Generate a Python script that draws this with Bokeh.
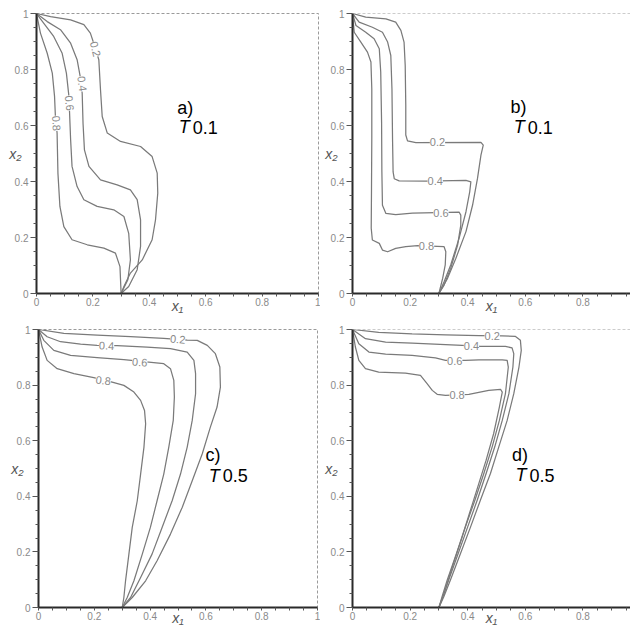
from bokeh.plotting import figure
from bokeh.layouts import column, row
from bokeh.models import Label, Span, FixedTicker, Range1d
from bokeh.embed import file_html
from bokeh.resources import INLINE

# ---------------- data ----------------
LEVELS = ["0.2", "0.4", "0.6", "0.8"]
TICKS = [0, 0.2, 0.4, 0.6, 0.8, 1]
TICK_LABELS = ["0", "0.2", "0.4", "0.6", "0.8", "1"]
MINOR_TICKS = [0.05, 0.1, 0.15, 0.25, 0.3, 0.35, 0.45, 0.5, 0.55,
               0.65, 0.7, 0.75, 0.85, 0.9, 0.95]
PANEL_TAGS = ["a)", "b)", "c)", "d)"]
PANEL_T = ["0.1", "0.1", "0.5", "0.5"]
X_LABEL = "x\u2081"
Y_LABEL = "x\u2082"

# panel a, T 0.1
A_X_02 = [0, 0.050, 0.121, 0.168, 0.191, 0.203, 0.221, 0.227, 0.233, 0.251, 0.298, 0.369, 0.410, 0.428, 0.430, 0.422, 0.410, 0.375, 0.333, 0.310, 0.300]
A_Y_02 = [1, 0.989, 0.977, 0.960, 0.930, 0.894, 0.835, 0.727, 0.632, 0.573, 0.543, 0.525, 0.489, 0.430, 0.358, 0.263, 0.192, 0.120, 0.073, 0.025, 0.0]
A_X_04 = [0, 0.038, 0.085, 0.121, 0.144, 0.156, 0.162, 0.165, 0.170, 0.186, 0.227, 0.286, 0.333, 0.357, 0.369, 0.369, 0.357, 0.327, 0.300]
A_Y_04 = [1, 0.971, 0.942, 0.894, 0.835, 0.769, 0.715, 0.608, 0.513, 0.454, 0.406, 0.388, 0.370, 0.335, 0.263, 0.168, 0.085, 0.025, 0]
A_X_06 = [0, 0.026, 0.061, 0.091, 0.106, 0.115, 0.121, 0.126, 0.144, 0.168, 0.215, 0.274, 0.310, 0.327, 0.333, 0.324, 0.300]
A_Y_06 = [1, 0.965, 0.918, 0.858, 0.787, 0.704, 0.549, 0.454, 0.382, 0.335, 0.311, 0.299, 0.275, 0.215, 0.120, 0.049, 0]
A_X_08 = [0, 0.014, 0.038, 0.056, 0.064, 0.067, 0.073, 0.076, 0.083, 0.097, 0.126, 0.180, 0.239, 0.280, 0.296, 0.300]
A_Y_08 = [1, 0.930, 0.858, 0.787, 0.704, 0.632, 0.573, 0.430, 0.311, 0.239, 0.192, 0.174, 0.162, 0.144, 0.096, 0]

# panel b, T 0.1
B_X_02 = [0, 0.046, 0.116, 0.150, 0.168, 0.179, 0.183, 0.185, 0.185, 0.191, 0.220, 0.446, 0.454, 0.446, 0.434, 0.417, 0.394, 0.359, 0.330, 0.300]
B_Y_02 = [1, 0.987, 0.981, 0.969, 0.940, 0.898, 0.815, 0.673, 0.566, 0.545, 0.539, 0.540, 0.530, 0.494, 0.411, 0.316, 0.221, 0.126, 0.054, 0]
B_X_04 = [0, 0.023, 0.069, 0.104, 0.122, 0.133, 0.137, 0.139, 0.141, 0.145, 0.162, 0.255, 0.394, 0.411, 0.407, 0.394, 0.370, 0.341, 0.318, 0.300]
B_Y_04 = [1, 0.969, 0.951, 0.933, 0.898, 0.850, 0.731, 0.553, 0.434, 0.410, 0.402, 0.401, 0.404, 0.399, 0.363, 0.292, 0.197, 0.102, 0.042, 0]
B_X_06 = [0, 0.012, 0.046, 0.075, 0.093, 0.098, 0.101, 0.102, 0.104, 0.116, 0.150, 0.208, 0.370, 0.376, 0.376, 0.365, 0.341, 0.318, 0.300]
B_Y_06 = [1, 0.957, 0.933, 0.910, 0.874, 0.791, 0.612, 0.434, 0.315, 0.286, 0.282, 0.287, 0.291, 0.280, 0.244, 0.173, 0.090, 0.030, 0]
B_X_08 = [0, 0.006, 0.029, 0.052, 0.064, 0.067, 0.067, 0.066, 0.065, 0.069, 0.093, 0.104, 0.122, 0.150, 0.185, 0.226, 0.318, 0.324, 0.322, 0.313, 0.300]
B_Y_08 = [1, 0.933, 0.898, 0.862, 0.827, 0.731, 0.553, 0.375, 0.233, 0.191, 0.179, 0.155, 0.149, 0.161, 0.167, 0.171, 0.167, 0.149, 0.102, 0.054, 0]

# panel c, T 0.5
C_X_02 = [0, 0.091, 0.210, 0.330, 0.449, 0.533, 0.569, 0.605, 0.634, 0.650, 0.652, 0.640, 0.616, 0.587, 0.551, 0.515, 0.473, 0.425, 0.384, 0.336, 0.300]
C_Y_02 = [1, 0.986, 0.980, 0.974, 0.968, 0.962, 0.961, 0.943, 0.913, 0.865, 0.793, 0.721, 0.649, 0.553, 0.456, 0.360, 0.264, 0.168, 0.096, 0.036, 0]
C_X_04 = [0, 0.031, 0.079, 0.151, 0.210, 0.282, 0.389, 0.473, 0.533, 0.557, 0.563, 0.563, 0.551, 0.533, 0.509, 0.479, 0.443, 0.407, 0.366, 0.330, 0.300]
C_Y_04 = [1, 0.974, 0.956, 0.947, 0.943, 0.942, 0.937, 0.931, 0.919, 0.889, 0.841, 0.769, 0.673, 0.577, 0.480, 0.384, 0.288, 0.192, 0.108, 0.036, 0]
C_X_06 = [0, 0.019, 0.055, 0.115, 0.210, 0.306, 0.395, 0.449, 0.473, 0.485, 0.487, 0.483, 0.467, 0.449, 0.425, 0.401, 0.372, 0.342, 0.318, 0.300]
C_Y_06 = [1, 0.961, 0.925, 0.907, 0.899, 0.892, 0.883, 0.877, 0.859, 0.817, 0.757, 0.673, 0.577, 0.480, 0.384, 0.288, 0.192, 0.096, 0.036, 0]
C_X_08 = [0, 0.013, 0.031, 0.067, 0.127, 0.198, 0.264, 0.306, 0.342, 0.366, 0.380, 0.384, 0.378, 0.366, 0.354, 0.336, 0.324, 0.312, 0.306, 0.300]
C_Y_08 = [1, 0.937, 0.889, 0.859, 0.841, 0.827, 0.811, 0.799, 0.775, 0.745, 0.709, 0.661, 0.577, 0.480, 0.384, 0.288, 0.192, 0.096, 0.036, 0]

# panel d, T 0.5
D_X_02 = [0, 0.091, 0.207, 0.323, 0.439, 0.520, 0.566, 0.583, 0.586, 0.578, 0.560, 0.537, 0.508, 0.479, 0.444, 0.410, 0.375, 0.340, 0.317, 0.300]
D_Y_02 = [1, 0.990, 0.984, 0.981, 0.978, 0.977, 0.975, 0.961, 0.925, 0.865, 0.769, 0.673, 0.578, 0.482, 0.386, 0.290, 0.194, 0.099, 0.039, 0]
D_X_04 = [0, 0.045, 0.115, 0.207, 0.323, 0.381, 0.444, 0.531, 0.554, 0.560, 0.557, 0.543, 0.520, 0.494, 0.464, 0.433, 0.400, 0.367, 0.334, 0.314, 0.300]
D_Y_04 = [1, 0.967, 0.955, 0.951, 0.946, 0.943, 0.939, 0.939, 0.934, 0.913, 0.865, 0.769, 0.673, 0.578, 0.482, 0.386, 0.290, 0.194, 0.099, 0.039, 0]
D_X_06 = [0, 0.022, 0.057, 0.115, 0.207, 0.288, 0.323, 0.392, 0.439, 0.520, 0.537, 0.541, 0.531, 0.510, 0.485, 0.456, 0.425, 0.392, 0.361, 0.329, 0.311, 0.300]
D_Y_06 = [1, 0.949, 0.919, 0.911, 0.907, 0.898, 0.889, 0.889, 0.891, 0.891, 0.889, 0.865, 0.769, 0.673, 0.578, 0.482, 0.386, 0.290, 0.194, 0.099, 0.039, 0]
D_X_08 = [0, 0.010, 0.022, 0.045, 0.091, 0.184, 0.236, 0.259, 0.277, 0.294, 0.323, 0.404, 0.473, 0.514, 0.520, 0.510, 0.490, 0.464, 0.435, 0.406, 0.377, 0.347, 0.318, 0.300]
D_Y_08 = [1, 0.937, 0.889, 0.859, 0.847, 0.843, 0.835, 0.805, 0.781, 0.767, 0.763, 0.767, 0.781, 0.785, 0.775, 0.721, 0.625, 0.530, 0.434, 0.338, 0.242, 0.147, 0.051, 0]

# contour label placement: (x, y, angle in degrees) per level
A_LAB = [(0.209, 0.873, -76), (0.162, 0.749, -82), (0.117, 0.680, -84), (0.071, 0.608, -86)]
B_LAB = [(0.295, 0.540, 0), (0.287, 0.401, 0), (0.307, 0.289, 0), (0.257, 0.171, 0)]
C_LAB = [(0.499, 0.965, -5), (0.244, 0.942, -2), (0.363, 0.883, -4), (0.232, 0.817, -7)]
D_LAB = [(0.485, 0.976, 0), (0.413, 0.939, 0), (0.355, 0.886, 0), (0.363, 0.763, 0)]

FONT = "Liberation Sans"
CURVE_COLOR = "#7a7a7a"
TICK_TEXT = "#8a8a8a"


def make_panel(width, height, mb, x_end, curves, labs, tag, tval, tag_pos, t_pos,
               right_border, xlab_standoff):
    p = figure(width=width, height=height, x_range=Range1d(0, x_end), y_range=Range1d(0, 1),
               output_backend="svg", toolbar_location=None,
               min_border_left=mb[0], min_border_right=mb[1],
               min_border_top=mb[2], min_border_bottom=mb[3])
    p.background_fill_color = "white"
    p.border_fill_color = "white"
    p.xgrid.visible = False
    p.ygrid.visible = False
    if right_border:
        p.outline_line_color = "#9a9a9a"
        p.outline_line_dash = "3 2"
        p.outline_line_width = 1
    else:
        p.outline_line_color = None
        p.add_layout(Span(location=1, dimension="width", line_color="#9a9a9a",
                          line_dash="3 2", line_width=1))

    overrides = {t: s for t, s in zip(TICKS, TICK_LABELS)}
    for ax in (p.xaxis[0], p.yaxis[0]):
        ax.ticker = FixedTicker(ticks=TICKS, minor_ticks=MINOR_TICKS)
        ax.major_label_overrides = overrides
        ax.axis_line_color = "#2a2a2a"
        ax.axis_line_width = 2
        ax.major_tick_line_color = "#555555"
        ax.minor_tick_line_color = "#555555"
        ax.major_tick_in = 0
        ax.minor_tick_in = 0
        ax.major_label_text_font = FONT
        ax.major_label_text_font_size = "10px"
        ax.major_label_text_color = TICK_TEXT
        ax.axis_label_text_font = FONT
        ax.axis_label_text_font_size = "14px"
        ax.axis_label_text_font_style = "italic"
        ax.axis_label_text_color = "#555555"
    p.xaxis.axis_label = X_LABEL
    p.yaxis.axis_label = Y_LABEL
    p.yaxis.axis_label_orientation = "horizontal"
    p.xaxis.axis_label_standoff = xlab_standoff
    p.yaxis.axis_label_standoff = -10
    p.xaxis.major_tick_out = 3
    p.xaxis.minor_tick_out = 3
    p.xaxis.major_label_standoff = 1
    p.yaxis.major_tick_out = 6
    p.yaxis.minor_tick_out = 3
    p.yaxis.major_label_standoff = 2

    for (xs, ys) in curves:
        p.line(xs, ys, line_color=CURVE_COLOR, line_width=1.25, line_join="round")

    for lev, (lx, ly, ang) in zip(LEVELS, labs):
        p.add_layout(Label(x=lx, y=ly, text=lev, angle=ang, angle_units="deg",
                           text_align="center", text_baseline="middle",
                           text_font=FONT, text_font_size="11px", text_color="#8a8a8a",
                           background_fill_color="white"))

    p.add_layout(Label(x=tag_pos[0], y=tag_pos[1], text=tag, text_align="left",
                       text_baseline="middle", text_font=FONT, text_font_size="18px",
                       text_color="black"))
    p.add_layout(Label(x=t_pos[0], y=t_pos[1], text="T", text_align="left",
                       text_baseline="middle", text_font=FONT, text_font_size="18px",
                       text_font_style="italic", text_color="black"))
    p.add_layout(Label(x=t_pos[0], y=t_pos[1], x_offset=14, text=tval, text_align="left",
                       text_baseline="middle", text_font=FONT, text_font_size="18px",
                       text_color="black"))
    return p


pa = make_panel(320, 316, (36, 2, 12, 23), 1.0,
                [(A_X_02, A_Y_02), (A_X_04, A_Y_04), (A_X_06, A_Y_06), (A_X_08, A_Y_08)],
                A_LAB, PANEL_TAGS[0], PANEL_T[0], (0.499, 0.662), (0.504, 0.594), True, -11)
pb = make_panel(310, 316, (32, 0, 13, 23), 278 / 288,
                [(B_X_02, B_Y_02), (B_X_04, B_Y_04), (B_X_06, B_Y_06), (B_X_08, B_Y_08)],
                B_LAB, PANEL_TAGS[1], PANEL_T[1], (0.549, 0.665), (0.560, 0.594), False, -11)
pc = make_panel(320, 312, (38, 3, 13, 21), 1.0,
                [(C_X_02, C_Y_02), (C_X_04, C_Y_04), (C_X_06, C_Y_06), (C_X_08, C_Y_08)],
                C_LAB, PANEL_TAGS[2], PANEL_T[2], (0.599, 0.547), (0.610, 0.474), True, -13)
pd_ = make_panel(310, 312, (32, 0, 13, 21), 278 / 288,
                 [(D_X_02, D_Y_02), (D_X_04, D_Y_04), (D_X_06, D_Y_06), (D_X_08, D_Y_08)],
                 D_LAB, PANEL_TAGS[3], PANEL_T[3], (0.554, 0.548), (0.566, 0.476), False, -13)

layout = column(row(pa, pb), row(pc, pd_))
open("out.html", "w").write(file_html(layout, INLINE))
